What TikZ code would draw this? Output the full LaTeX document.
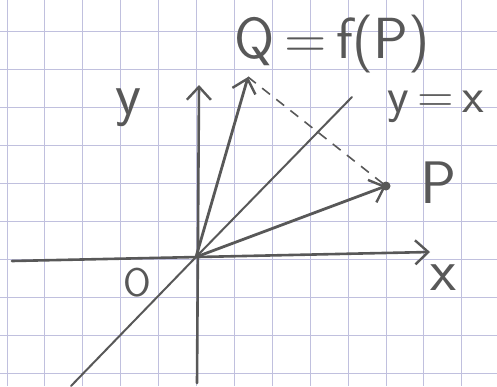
\documentclass[tikz,border=0pt]{standalone}
\usetikzlibrary{arrows.meta}
\definecolor{pen}{RGB}{88,88,88}
\definecolor{paper}{RGB}{192,192,222}

\begin{document}
\begin{tikzpicture}[x=1pt,y=-1pt,
  sq/.style={draw=paper,line width=0.9pt},
  ax/.style={draw=pen,line width=2.6pt,line cap=round,-{Straight Barb[length=13pt,width=24pt,line width=2.4pt]}},
  vec/.style={ax,line width=2.8pt},
  diag/.style={draw=pen,line width=2pt,line cap=round},
  proj/.style={draw=pen,line width=1.6pt,dash pattern=on 10pt off 8pt},
  lab/.style={text=pen,font=\sffamily\fontsize{60}{60}\selectfont,inner sep=0pt}]
  \useasboundingbox (0,0) rectangle (497,386);
  % squared paper
  \foreach \k in {0,...,13} \draw[sq] (7+37.9*\k,0) -- (7+37.9*\k,386);
  \foreach \k in {1,...,10} \draw[sq] (0,-7+38*\k) -- (497,-7+38*\k);
  % points
  \coordinate (O) at (196,257);
  \coordinate (xl) at (12,261); \coordinate (xr) at (430,252);
  \coordinate (yb) at (197,383); \coordinate (yt) at (199,85);
  \coordinate (dl) at (71,386); \coordinate (du) at (352,97);
  \coordinate (P) at (386,186); \coordinate (Q) at (248,77);
  \draw[diag] (dl) -- (O) -- (du);
  \draw[ax] (xl) -- (xr);
  \draw[ax] (yb) -- (yt);
  \draw[proj] (Q) -- (P);
  \draw[vec] (O) -- (Q);
  \draw[vec] (O) -- (P);
  \fill[pen] (P) circle (4.5);
  % labels
  \node[lab,anchor=base west,font=\sffamily\fontsize{58}{58}\selectfont] (qlab) at (234,58) {Q\,=\,f(P)};
  \node[lab,anchor=base west,font=\sffamily\fontsize{50}{50}\selectfont] (diaglab) at (387,112) {y\,=\,x};
  \node[lab,anchor=base west] (plab) at (420,203) {P};
  \node[lab] (ylab) at (128,108) {y};
  \node[lab] (xlab) at (443,278) {x};
  \node[lab,font=\sffamily\fontsize{40}{40}\selectfont] (olab) at (137,283) {O};
\end{tikzpicture}
\end{document}
